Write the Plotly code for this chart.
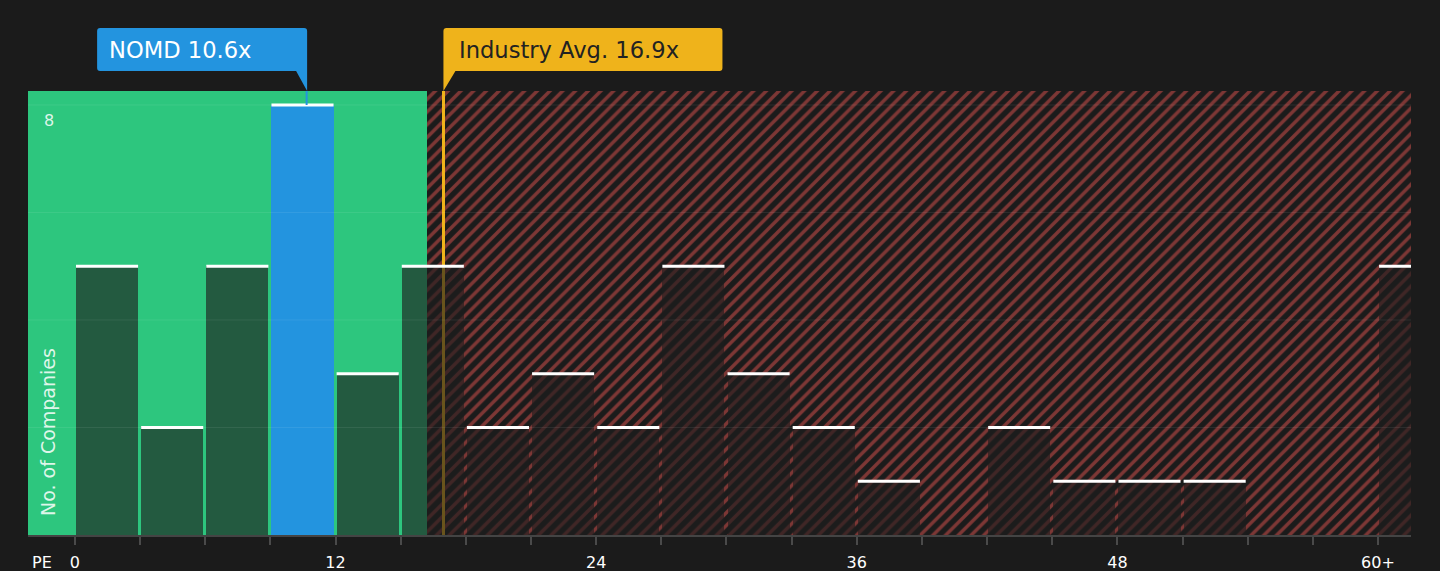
import plotly.graph_objects as go

# PE distribution of peer companies (bins of 3x, last bin is 60+)
bin_starts = [0, 3, 6, 9, 12, 15, 18, 21, 24, 27, 30, 33, 36, 39, 42, 45, 48, 51, 54, 57, 60]
counts = [5, 2, 5, 8, 3, 5, 2, 3, 2, 5, 3, 2, 1, 0, 2, 1, 1, 1, 0, 0, 5]
tick_labels = ["0", "", "", "", "12", "", "", "", "24", "", "", "", "36", "", "", "", "48", "", "", "", "60+"]

company = "NOMD"
company_pe = 10.6
industry_avg = 16.9
fair_end = 16.2  # end of the green (cheap) zone

BIN = 3
BAR_W = BIN * 0.953
X_MIN, X_MAX = -2.16, 61.52
Y_MAX = 8.26
grid_vals = [2, 4, 6, 8]

BG = "#1b1b1b"
GREEN = "#2dc67e"
RED = "#e0534f"
BLUE = "#2394df"
GOLD = "#efb31b"
FONT = "DejaVu Sans"

hl = [i for i, s in enumerate(bin_starts) if s <= company_pe < s + BIN][0]

fig = go.Figure()

# zones are bars too, so that they sit under the count bars (bars draw in trace order)
fig.add_trace(go.Bar(
    x=[X_MIN], y=[Y_MAX], offset=0, width=fair_end - X_MIN,
    marker=dict(color=GREEN, line=dict(width=0)), hoverinfo="skip", showlegend=False,
))
fig.add_trace(go.Bar(
    x=[fair_end], y=[Y_MAX], offset=0, width=X_MAX - fair_end,
    marker=dict(color=BG, line=dict(width=0),
                pattern=dict(shape="/", fgcolor=RED, bgcolor=BG, size=9, solidity=0.38)),
    hoverinfo="skip", showlegend=False,
))
# industry average line (a thin bar so it stays under the count bars)
fig.add_trace(go.Bar(
    x=[industry_avg], y=[Y_MAX], offset=0, width=0.14,
    marker=dict(color=GOLD, line=dict(width=0)), hoverinfo="skip", showlegend=False,
))

colors = [BLUE if i == hl else "rgba(30,30,30,0.64)" for i in range(len(counts))]
fig.add_trace(go.Bar(
    x=bin_starts, y=counts, offset=0.05, width=BAR_W,
    marker=dict(color=colors, line=dict(width=0)), showlegend=False,
))

# white caps on the bars
cx, cy = [], []
for s, c in zip(bin_starts, counts):
    if c > 0:
        cx += [s + 0.05, s + 0.05 + BAR_W, None]
        cy += [c, c, None]
fig.add_trace(go.Scatter(
    x=cx, y=cy, mode="lines", line=dict(color="white", width=3),
    hoverinfo="skip", showlegend=False,
))

shapes = []
for v in grid_vals:
    shapes.append(dict(type="line", xref="paper", x0=0, x1=1, yref="y", y0=v, y1=v,
                       line=dict(color="rgba(255,255,255,0.08)", width=1), layer="above"))

# callout boxes
shapes.append(dict(
    type="path", xref="x", xsizemode="pixel", xanchor=company_pe,
    yref="paper", ysizemode="pixel", yanchor=1,
    path="M -205,20 L -9,20 L 2,0 L 2,60 Q 2,63 -1,63 L -205,63 Q -208,63 -208,60 L -208,23 Q -208,20 -205,20 Z",
    fillcolor=BLUE, line=dict(width=0), layer="above",
))
shapes.append(dict(type="line", xref="x", xsizemode="pixel", xanchor=company_pe, x0=1.5, x1=1.5,
                   yref="y", y0=counts[hl], y1=Y_MAX, line=dict(color=BLUE, width=2)))
shapes.append(dict(
    type="path", xref="x", xsizemode="pixel", xanchor=industry_avg,
    yref="paper", ysizemode="pixel", yanchor=1,
    path="M 1.5,0 L 13.5,20 L 277.5,20 Q 280.5,20 280.5,23 L 280.5,60 Q 280.5,63 277.5,63 L 4.5,63 Q 1.5,63 1.5,60 Z",
    fillcolor=GOLD, line=dict(width=0), layer="above",
))

annotations = [
    dict(text=f"{company} {company_pe}x", x=company_pe, xref="x", xanchor="left", xshift=-198,
         y=1, yref="paper", yanchor="middle", yshift=41, showarrow=False,
         font=dict(family=FONT, size=22.6, color="white")),
    dict(text=f"Industry Avg. {industry_avg}x", x=industry_avg, xref="x", xanchor="left", xshift=15,
         y=1, yref="paper", yanchor="middle", yshift=41, showarrow=False,
         font=dict(family=FONT, size=22.6, color="#222222")),
    dict(text="8", x=0.0152, xref="paper", xanchor="center", y=8, yref="y", yanchor="top",
         yshift=-4, showarrow=False, font=dict(family=FONT, size=16, color="rgba(255,255,255,0.85)")),
    dict(text="No. of Companies", textangle=-90, x=0.0145, xref="paper", xanchor="center",
         y=0, yref="y", yanchor="bottom", yshift=17, showarrow=False,
         font=dict(family=FONT, size=19, color="rgba(255,255,255,0.85)")),
    dict(text="PE", x=0.010, xref="paper", xanchor="center", y=0, yref="paper", yanchor="middle",
         yshift=-27, showarrow=False, font=dict(family=FONT, size=16, color="white")),
]

fig.update_layout(
    width=1440, height=571,
    margin=dict(l=28, r=29, t=91, b=36),
    paper_bgcolor=BG, plot_bgcolor=BG,
    barmode="overlay", bargap=0, shapes=shapes, annotations=annotations,
    font=dict(family=FONT, color="white"),
    xaxis=dict(
        range=[X_MIN, X_MAX], tickvals=bin_starts, ticktext=tick_labels,
        ticks="outside", ticklen=8, tickwidth=2, tickcolor="#4a4a4a",
        showline=True, linecolor="#444444", linewidth=2,
        showgrid=False, zeroline=False, ticklabelstandoff=4, automargin=False,
        tickfont=dict(family=FONT, size=16, color="white"),
    ),
    yaxis=dict(range=[0, Y_MAX], showgrid=False, zeroline=False, showticklabels=False,
               automargin=False),
)

fig.write_html(
    "out.html",
    config={"displayModeBar": False},
    post_script="document.body.style.margin='0';document.body.style.background='#1b1b1b';",
)
